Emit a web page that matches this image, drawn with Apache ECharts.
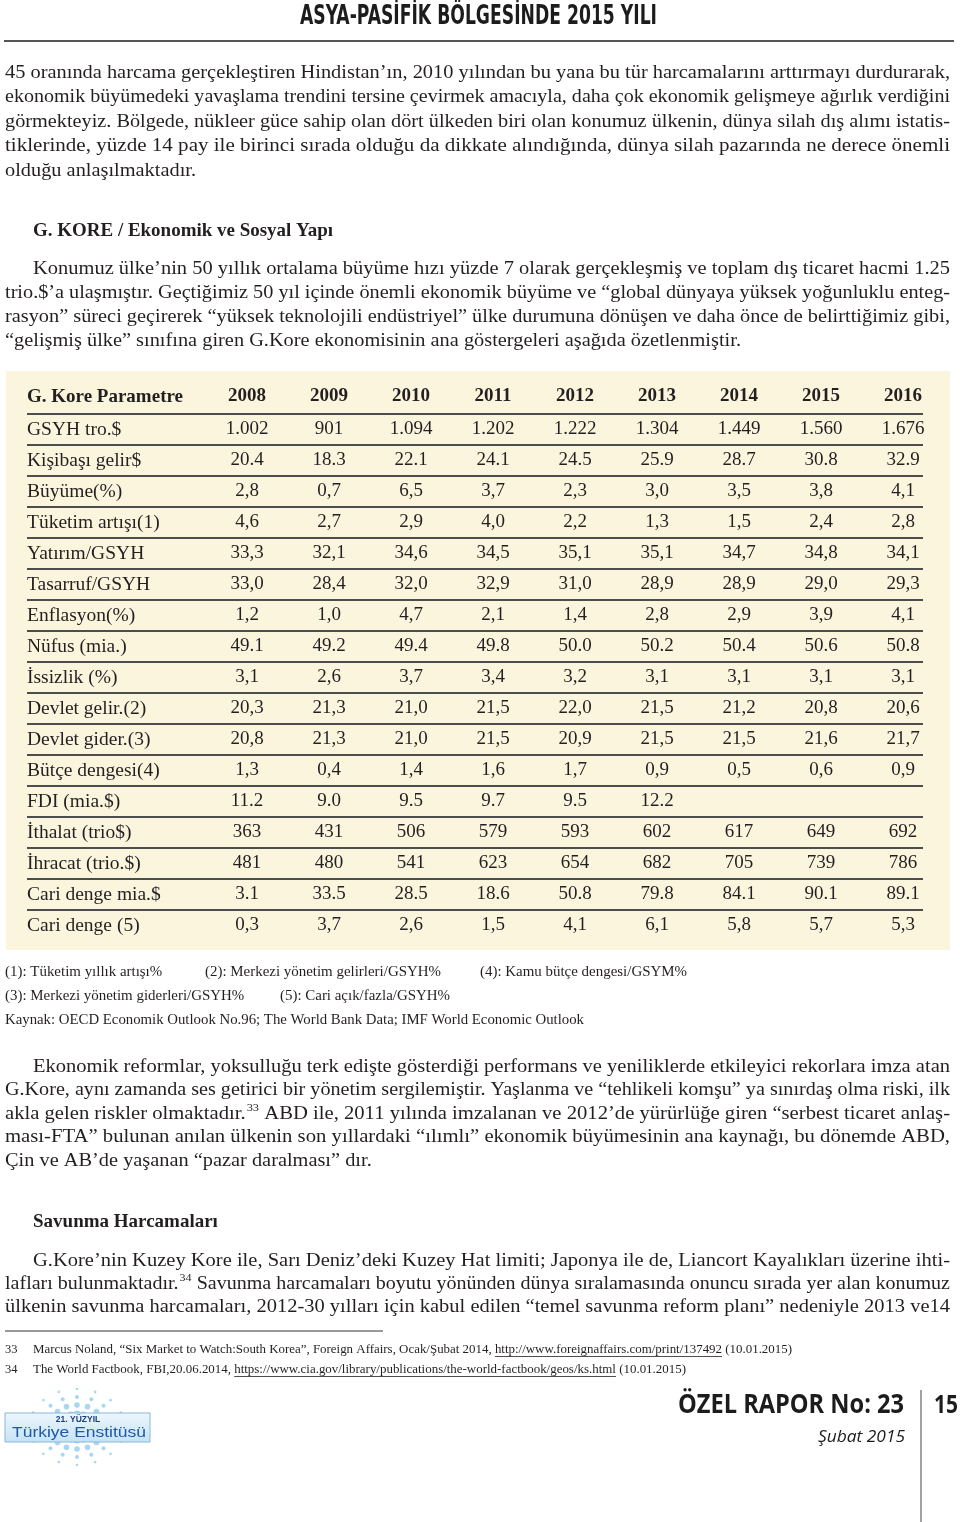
<!DOCTYPE html>
<html>
<head>
<meta charset="utf-8">
<script src="https://cdn.jsdelivr.net/npm/echarts@6/dist/echarts.min.js"></script>
<style>
	html, body { margin: 0; padding: 0; background: #fff; }
	#main { width: 960px; height: 1522px; }
</style>
</head>
<body>
<div id="main"></div>
<script>
	// table data
	const years = ['2008', '2009', '2010', '2011', '2012', '2013', '2014', '2015', '2016'];
	const params = ['GSYH tro.$', 'Kişibaşı gelir$', 'Büyüme(%)', 'Tüketim artışı(1)', 'Yatırım/GSYH',
		'Tasarruf/GSYH', 'Enflasyon(%)', 'Nüfus (mia.)', 'İssizlik (%)', 'Devlet gelir.(2)',
		'Devlet gider.(3)', 'Bütçe dengesi(4)', 'FDI (mia.$)', 'İthalat (trio$)', 'İhracat (trio.$)',
		'Cari denge mia.$', 'Cari denge (5)'];
	const gsyh = ['1.002', '901', '1.094', '1.202', '1.222', '1.304', '1.449', '1.560', '1.676'];
	const kisibasi = ['20.4', '18.3', '22.1', '24.1', '24.5', '25.9', '28.7', '30.8', '32.9'];
	const buyume = ['2,8', '0,7', '6,5', '3,7', '2,3', '3,0', '3,5', '3,8', '4,1'];
	const tuketim = ['4,6', '2,7', '2,9', '4,0', '2,2', '1,3', '1,5', '2,4', '2,8'];
	const yatirim = ['33,3', '32,1', '34,6', '34,5', '35,1', '35,1', '34,7', '34,8', '34,1'];
	const tasarruf = ['33,0', '28,4', '32,0', '32,9', '31,0', '28,9', '28,9', '29,0', '29,3'];
	const enflasyon = ['1,2', '1,0', '4,7', '2,1', '1,4', '2,8', '2,9', '3,9', '4,1'];
	const nufus = ['49.1', '49.2', '49.4', '49.8', '50.0', '50.2', '50.4', '50.6', '50.8'];
	const issizlik = ['3,1', '2,6', '3,7', '3,4', '3,2', '3,1', '3,1', '3,1', '3,1'];
	const devletGelir = ['20,3', '21,3', '21,0', '21,5', '22,0', '21,5', '21,2', '20,8', '20,6'];
	const devletGider = ['20,8', '21,3', '21,0', '21,5', '20,9', '21,5', '21,5', '21,6', '21,7'];
	const butce = ['1,3', '0,4', '1,4', '1,6', '1,7', '0,9', '0,5', '0,6', '0,9'];
	const fdi = ['11.2', '9.0', '9.5', '9.7', '9.5', '12.2', '', '', ''];
	const ithalat = ['363', '431', '506', '579', '593', '602', '617', '649', '692'];
	const ihracat = ['481', '480', '541', '623', '654', '682', '705', '739', '786'];
	const cariMia = ['3.1', '33.5', '28.5', '18.6', '50.8', '79.8', '84.1', '90.1', '89.1'];
	const cariYuzde = ['0,3', '3,7', '2,6', '1,5', '4,1', '6,1', '5,8', '5,7', '5,3'];

	const rows = [gsyh, kisibasi, buyume, tuketim, yatirim, tasarruf, enflasyon, nufus, issizlik,
		devletGelir, devletGider, butce, fdi, ithalat, ihracat, cariMia, cariYuzde];

	const SERIF = '"Liberation Serif", "Times New Roman", serif';
	const NARROW = '"Liberation Sans Narrow", "DejaVu Sans Condensed", sans-serif';
	const SANS = '"Open Sans", "Noto Sans", sans-serif';
	const INK = '#231f20';

	const ctx = document.createElement('canvas').getContext('2d');
	function measure(text, size, family, weight, style) {
		ctx.font = (style || 'normal') + ' ' + (weight || 'normal') + ' ' + size + 'px ' + (family || SERIF);
		return ctx.measureText(text).width;
	}

	const els = [];
	function txt(text, x, y, o) {
		els.push({
			type: 'text', x: x, y: y, scaleX: o.sx || 1, z: 5,
			style: {
				text: text, fontFamily: o.family || SERIF, fontSize: o.size,
				fontWeight: o.weight || 'normal', fontStyle: o.style || 'normal',
				fill: o.color || INK, align: o.align || 'left', verticalAlign: 'middle'
			}
		});
	}
	// text fitted to a width
	function fit(text, x, y, width, o) {
		const w = measure(text, o.size, o.family, o.weight, o.style);
		txt(text, x, y, Object.assign({}, o, { sx: width / w }));
	}
	// one line of body text, justified or not; "word^33" gives a superscript
	const STRETCH = 1.1;
	function wordsLine(str, x0, x1, y, size, justify) {
		const words = str.split(' ').map(w => {
			const p = w.split('^');
			const wb = measure(p[0], size);
			const ws = p[1] ? measure(p[1], size * 0.6) + 1 : 0;
			return { b: p[0], s: p[1], wb: wb, w: wb + ws };
		});
		const total = words.reduce((a, w) => a + w.w, 0);
		const sp = measure(' ', size);
		const n = words.length - 1;
		let sx = STRETCH, gap = sp * STRETCH;
		if (justify && n > 0) {
			sx = Math.max(0.9, Math.min(1.2, (x1 - x0) / (total + sp * n)));
			gap = (x1 - x0 - sx * total) / n;
		}
		let x = x0;
		words.forEach(w => {
			txt(w.b, x, y, { size: size, sx: sx });
			if (w.s) txt(w.s, x + w.wb * sx + 1, y - size * 0.32, { size: size * 0.6, sx: sx });
			x += w.w * sx + gap;
		});
	}
	function para(lines, x0, x1, y0, lh, size, indent, justifyLast) {
		lines.forEach((ln, i) => {
			const last = i === lines.length - 1;
			wordsLine(ln, i === 0 ? x0 + indent : x0, x1, y0 + i * lh, size, !last || justifyLast);
		});
	}
	// footnote line with underlined url parts
	function segLine(segs, x0, x1, y, size) {
		const ws = segs.map(s => measure(s.t, size));
		const sx = (x1 - x0) / ws.reduce((a, b) => a + b, 0);
		let x = x0;
		segs.forEach((s, i) => {
			txt(s.t, x, y, { size: size, sx: sx });
			if (s.u) {
				els.push({ type: 'line', z: 5, shape: { x1: x, y1: y + size * 0.5, x2: x + ws[i] * sx, y2: y + size * 0.5 },
					style: { stroke: INK, lineWidth: 0.8 } });
			}
			x += ws[i] * sx;
		});
	}

	// page head
	fit('ASYA-PASİFİK BÖLGESİNDE 2015 YILI', 300, 17, 357, { size: 27, family: NARROW, weight: 'bold', color: '#1c1c1c' });
	els.push({ type: 'line', z: 5, shape: { x1: 4, y1: 41, x2: 954, y2: 41 }, style: { stroke: '#555', lineWidth: 2 } });

	para([
		'45 oranında harcama gerçekleştiren Hindistan’ın, 2010 yılından bu yana bu tür harcamalarını arttırmayı durdurarak,',
		'ekonomik büyümedeki yavaşlama trendini tersine çevirmek amacıyla, daha çok ekonomik gelişmeye ağırlık verdiğini',
		'görmekteyiz. Bölgede, nükleer güce sahip olan dört ülkeden biri olan konumuz ülkenin, dünya silah dış alımı istatis-',
		'tiklerinde, yüzde 14 pay ile birinci sırada olduğu da dikkate alındığında, dünya silah pazarında ne derece önemli',
		'olduğu anlaşılmaktadır.'
	], 5, 950, 73, 24.5, 18.5, 0);

	fit('G. KORE / Ekonomik ve Sosyal Yapı', 33, 231, 300, { size: 19, weight: 'bold' });

	para([
		'Konumuz ülke’nin 50 yıllık ortalama büyüme hızı yüzde 7 olarak gerçekleşmiş ve toplam dış ticaret hacmi 1.25',
		'trio.$’a ulaşmıştır. Geçtiğimiz 50 yıl içinde önemli ekonomik büyüme ve “global dünyaya yüksek yoğunluklu enteg-',
		'rasyon” süreci geçirerek “yüksek teknolojili endüstriyel” ülke durumuna dönüşen ve daha önce de belirttiğimiz gibi,',
		'“gelişmiş ülke” sınıfına giren G.Kore ekonomisinin ana göstergeleri aşağıda özetlenmiştir.'
	], 5, 950, 269, 24, 18.5, 28);

	// table background
	els.push({ type: 'rect', z: -10, shape: { x: 6, y: 371, width: 944, height: 579 }, style: { fill: '#fcf5de' } });
	txt('G. Kore Parametre', 27, 397, { size: 19, weight: 'bold' });

	// table notes
	txt('(1): Tüketim yıllık artışı%', 5, 972, { size: 14.5, sx: 1.03 });
	txt('(2): Merkezi yönetim gelirleri/GSYH%', 205, 972, { size: 14.5, sx: 1.03 });
	txt('(4): Kamu bütçe dengesi/GSYM%', 480, 972, { size: 14.5, sx: 1.03 });
	txt('(3): Merkezi yönetim giderleri/GSYH%', 5, 996, { size: 14.5, sx: 1.03 });
	txt('(5): Cari açık/fazla/GSYH%', 280, 996, { size: 14.5, sx: 1.03 });
	fit('Kaynak: OECD Economik Outlook No.96; The World Bank Data; IMF World Economic Outlook', 5, 1020, 579, { size: 14.5 });

	para([
		'Ekonomik reformlar, yoksulluğu terk edişte gösterdiği performans ve yeniliklerde etkileyici rekorlara imza atan',
		'G.Kore, aynı zamanda ses getirici bir yönetim sergilemiştir. Yaşlanma ve “tehlikeli komşu” ya sınırdaş olma riski, ilk',
		'akla gelen riskler olmaktadır.^33 ABD ile, 2011 yılında imzalanan ve 2012’de yürürlüğe giren “serbest ticaret anlaş-',
		'ması-FTA” bulunan anılan ülkenin son yıllardaki “ılımlı” ekonomik büyümesinin ana kaynağı, bu dönemde ABD,',
		'Çin ve AB’de yaşanan “pazar daralması” dır.'
	], 5, 950, 1067, 23.5, 18.5, 28);

	txt('Savunma Harcamaları', 33, 1222, { size: 19, weight: 'bold' });

	para([
		'G.Kore’nin Kuzey Kore ile, Sarı Deniz’deki Kuzey Hat limiti; Japonya ile de, Liancort Kayalıkları üzerine ihti-',
		'lafları bulunmaktadır.^34 Savunma harcamaları boyutu yönünden dünya sıralamasında onuncu sırada yer alan konumuz',
		'ülkenin savunma harcamaları, 2012-30 yılları için kabul edilen “temel savunma reform planı” nedeniyle 2013 ve14'
	], 5, 950, 1261, 23, 18.5, 28, true);

	// footnotes
	els.push({ type: 'line', z: 5, shape: { x1: 5, y1: 1331, x2: 383, y2: 1331 }, style: { stroke: '#333', lineWidth: 1 } });
	txt('33', 5, 1350, { size: 12.5 });
	segLine([
		{ t: 'Marcus Noland, “Six Market to Watch:South Korea”, Foreign Affairs, Ocak/Şubat 2014, ' },
		{ t: 'http://www.foreignaffairs.com/print/137492', u: true },
		{ t: ' (10.01.2015)' }
	], 33, 792, 1350, 13);
	txt('34', 5, 1370, { size: 12.5 });
	segLine([
		{ t: 'The World Factbook, FBI,20.06.2014, ' },
		{ t: 'https://www.cia.gov/library/publications/the-world-factbook/geos/ks.html', u: true },
		{ t: ' (10.01.2015)' }
	], 33, 686, 1370, 13);

	// logo
	const cx = 77, cy = 1427;
	for (let a = 0; a < 16; a++) {
		const ang = a * Math.PI / 8;
		[[13, 3.6], [22, 2.8], [30, 2], [38, 1.3]].forEach(d => {
			els.push({ type: 'circle', z: 4, shape: { cx: cx + Math.cos(ang) * d[0] * 1.25, cy: cy + Math.sin(ang) * d[0], r: d[1] },
				style: { fill: '#a9d6f1' } });
		});
	}
	els.push({ type: 'circle', z: 4, shape: { cx: cx, cy: cy, r: 6 }, style: { fill: '#bfe2f6' } });
	els.push({ type: 'rect', z: 5, shape: { x: 5, y: 1413, width: 145, height: 29 },
		style: { stroke: '#8ab7da', lineWidth: 1,
			fill: new echarts.graphic.LinearGradient(0, 0, 0, 1, [{ offset: 0, color: '#eef7fc' }, { offset: 1, color: '#c4e2f4' }]) } });
	txt('21. YÜZYIL', 78, 1420, { size: 8.5, family: '"Liberation Sans", Arial, sans-serif', weight: 'bold', color: '#1d3f7a', align: 'center' });
	fit('Türkiye Enstitüsü', 12, 1433, 134, { size: 15, family: '"Liberation Sans", Arial, sans-serif', color: '#1f58a6' });

	// page foot
	fit('ÖZEL RAPOR No: 23', 678, 1406, 226, { size: 26, family: SANS, weight: 'bold', color: '#1c1c1c' });
	fit('Şubat 2015', 818, 1437, 87, { size: 16, family: SANS, style: 'italic', color: '#1c1c1c' });
	els.push({ type: 'line', z: 5, shape: { x1: 921, y1: 1390, x2: 921, y2: 1522 }, style: { stroke: '#444', lineWidth: 1 } });
	fit('15', 934, 1406, 24, { size: 25, family: SANS, weight: 'bold', color: '#1c1c1c' });

	// table cells
	const cells = [];
	rows.forEach((vals, r) => vals.forEach((v, c) => { if (v) cells.push([c, r, v]); }));

	const chart = echarts.init(document.getElementById('main'));
	const option = {
		animation: false,
		grid: { left: 206, top: 414, width: 738, height: 527 },
		xAxis: {
			type: 'category', data: years, position: 'top', z: 6,
			axisLine: { show: false }, axisTick: { show: false }, splitLine: { show: false },
			axisLabel: { fontFamily: SERIF, fontSize: 19, fontWeight: 'bold', color: INK, margin: 8 }
		},
		yAxis: {
			type: 'category', data: params, inverse: true, z: 6,
			axisLine: { show: false }, axisTick: { show: false }, splitLine: { show: false },
			axisLabel: { fontFamily: SERIF, fontSize: 19.5, color: INK, align: 'left', margin: 179 }
		},
		series: [{
			// row rules
			type: 'custom', silent: true, z: 3,
			data: params.map((p, i) => [0, i]),
			renderItem: function (p, api) {
				const y = api.coord([0, api.value(1)])[1] - api.size([0, 1])[1] / 2;
				return { type: 'line', shape: { x1: 27, y1: y, x2: 923, y2: y }, style: { stroke: '#4d4d4d', lineWidth: 2 } };
			}
		}, {
			// cell values
			type: 'custom', silent: true, z: 4,
			data: cells.map(c => [c[0], c[1]]),
			renderItem: function (p, api) {
				const pt = api.coord([api.value(0), api.value(1)]);
				return {
					type: 'text', x: pt[0], y: pt[1],
					style: { text: cells[p.dataIndex][2], fontFamily: SERIF, fontSize: 19, fill: INK, align: 'center', verticalAlign: 'middle' }
				};
			}
		}],
		graphic: { elements: els }
	};
	chart.setOption(option);
</script>
</body>
</html>
